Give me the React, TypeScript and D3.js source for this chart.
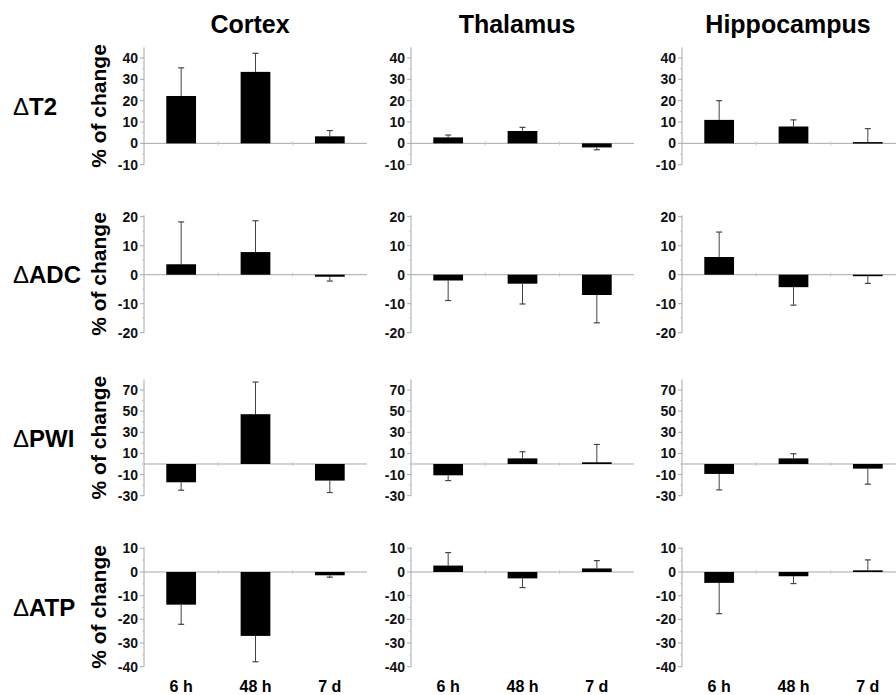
import React from "react";
import * as d3 from "d3";

const regions = ["Cortex", "Thalamus", "Hippocampus"];
const timepoints = ["6 h", "48 h", "7 d"];
const measures = ["T2", "ADC", "PWI", "ATP"];

// means [region][timepoint]
const t2Means = [[22.2, 33.5, 3.3], [2.8, 5.8, -1.9], [11.0, 7.9, 0.6]];
const t2Err = [[13.2, 8.7, 2.7], [1.1, 1.7, 1.1], [9.0, 3.1, 6.3]];
const adcMeans = [[3.6, 7.8, -0.7], [-2.0, -3.1, -7.0], [6.1, -4.3, -0.5]];
const adcErr = [[14.6, 10.8, 1.5], [6.9, 7.0, 9.6], [8.6, 6.2, 2.5]];
const pwiMeans = [[-17.3, 47.1, -15.7], [-10.7, 5.3, 1.6], [-9.4, 5.3, -4.4]];
const pwiErr = [[7.5, 30.4, 11.3], [5.0, 6.3, 16.9], [15.1, 4.4, 14.7]];
const atpMeans = [[-13.8, -27.0, -1.4], [2.7, -2.7, 1.5], [-4.6, -1.8, 0.7]];
const atpErr = [[8.3, 10.9, 0.8], [5.5, 3.9, 3.3], [13.0, 3.1, 4.4]];

const t2Ticks = [-10, 0, 10, 20, 30, 40];
const adcTicks = [-20, -10, 0, 10, 20];
const pwiTicks = [-30, -10, 10, 30, 50, 70];
const atpTicks = [-40, -30, -20, -10, 0, 10];

const rowsDef = [
  { name: measures[0], means: t2Means, err: t2Err, ticks: t2Ticks, domain: [-10, 45], ref: [-10, 40], px: [164.7, 58], minorStep: 5 },
  { name: measures[1], means: adcMeans, err: adcErr, ticks: adcTicks, domain: [-20, 20.5], ref: [-20, 20], px: [332.7, 216.7], minorStep: 5 },
  { name: measures[2], means: pwiMeans, err: pwiErr, ticks: pwiTicks, domain: [-30, 80], ref: [-30, 70], px: [495.7, 390], minorStep: 10 },
  { name: measures[3], means: atpMeans, err: atpErr, ticks: atpTicks, domain: [-40, 10.5], ref: [-40, 10], px: [666.7, 548.3], minorStep: 5 },
];

const colX = [144, 411, 682];
const panelW = 223;
const FONT = "'Liberation Sans', Arial, Helvetica, sans-serif";
const AXIS = "#a8a8a8";

export default function App() {
  return (
    <svg width={896} height={695} style={{ position: "absolute", left: 0, top: 0, background: "#fff" }} fontFamily={FONT}>
      {regions.map((r, ci) => (
        <text key={r} x={colX[ci] + 106} y={33} textAnchor="middle" fontSize={25} fontWeight="bold">{r}</text>
      ))}
      {rowsDef.map((row, ri) => {
        const y = d3.scaleLinear().domain(row.ref).range(row.px);
        const yTop = y(row.domain[1]);
        const yBot = y(row.domain[0]);
        const mid = (yTop + yBot) / 2;
        const minor = d3.range(row.domain[0], row.domain[1] + 0.01, row.minorStep).filter((v) => !row.ticks.includes(v) && v <= row.ref[1]);
        return (
          <g key={row.name}>
            <text x={13} y={mid + 9} fontSize={24} fontWeight="bold">
              <tspan fontWeight="normal">Δ</tspan>{row.name}
            </text>
            <text transform={`translate(106,${mid}) rotate(-90)`} textAnchor="middle" fontSize={21} fontWeight="bold">% of change</text>
            {regions.map((reg, ci) => {
              const x0 = colX[ci];
              const x = d3.scaleBand().domain(timepoints).range([x0, x0 + panelW]).padding(0);
              const bw = x.bandwidth() * 0.4;
              return (
                <g key={reg}>
                  <line x1={x0} x2={x0} y1={yTop} y2={yBot} stroke={AXIS} strokeWidth={1} />
                  {row.ticks.map((t) => (
                    <g key={t}>
                      <line x1={x0 - 4} x2={x0} y1={y(t)} y2={y(t)} stroke={AXIS} />
                      <text x={x0 - 6} y={y(t)} dy="0.36em" textAnchor="end" fontSize={14} fontWeight="bold" fill="#111">{t}</text>
                    </g>
                  ))}
                  {minor.map((t) => (
                    <line key={"m" + t} x1={x0 - 2} x2={x0} y1={y(t)} y2={y(t)} stroke="#c8c8c8" />
                  ))}
                  <line x1={x0} x2={x0 + panelW} y1={y(0)} y2={y(0)} stroke={AXIS} strokeWidth={1} />
                  {timepoints.slice(1).map((tp) => (
                    <line key={tp} x1={x(tp)} x2={x(tp)} y1={y(0) - 2} y2={y(0) + 2} stroke="#c8c8c8" />
                  ))}
                  {timepoints.map((tp, ti) => {
                    const m = row.means[ci][ti];
                    const e = row.err[ci][ti];
                    const cx = (x(tp) as number) + x.bandwidth() / 2;
                    const end = m >= 0 ? m + e : m - e;
                    return (
                      <g key={tp}>
                        <line x1={cx} x2={cx} y1={y(m)} y2={y(end)} stroke="#444" strokeWidth={1} />
                        <line x1={cx - 3} x2={cx + 3} y1={y(end)} y2={y(end)} stroke="#444" strokeWidth={1.2} />
                        <rect x={cx - bw / 2} y={Math.min(y(m), y(0))} width={bw} height={Math.max(Math.abs(y(m) - y(0)), 1.5)} fill="#000" />
                      </g>
                    );
                  })}
                  {ri === rowsDef.length - 1 &&
                    timepoints.map((tp) => (
                      <text key={tp} x={(x(tp) as number) + x.bandwidth() / 2} y={692} textAnchor="middle" fontSize={16} fontWeight="bold">{tp}</text>
                    ))}
                </g>
              );
            })}
          </g>
        );
      })}
    </svg>
  );
}
